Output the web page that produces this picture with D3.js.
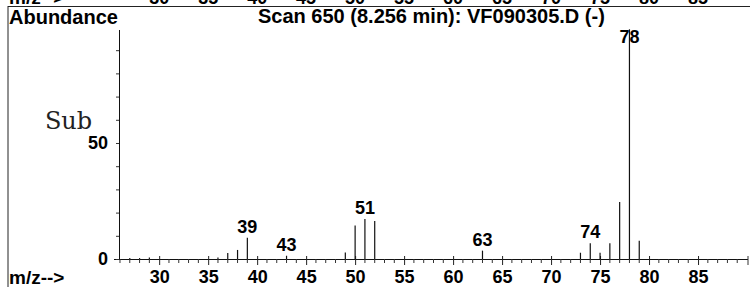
<!DOCTYPE html>
<html>
<head>
<meta charset="utf-8">
<script src="https://cdn.jsdelivr.net/npm/d3@7"></script>
<style>
    body { margin: 0; background: white; }
    svg text { font-family: "Liberation Sans", Arial, sans-serif; font-weight: bold; fill: black; }
    svg text.mono { font-family: "DejaVu Serif", "Liberation Serif", serif; font-weight: normal; fill: #222; }
</style>
</head>
<body>
<div id="spectrum"></div>
<script>
// Spectrum data
const mz = [27, 28, 29, 36, 37, 38, 39, 43, 49, 50, 51, 52, 63, 73, 74, 75, 76, 77, 78, 79];
const abundance = [0.4, 0.4, 0.6, 0.6, 2.6, 3.9, 9.2, 1.4, 2.8, 14.4, 17.2, 16.4, 3.6, 2.7, 6.8, 2.7, 6.8, 24.6, 99, 7.9];
const peakLabels = [39, 43, 51, 63, 74, 78];
const xTickValues = [30, 35, 40, 45, 50, 55, 60, 65, 70, 75, 80, 85];
const yTickValues = [0, 10, 20, 30, 40, 50, 60, 70, 80, 90];
const yTickLabels = [0, 50];
const titleText = "Scan 650 (8.256 min): VF090305.D (-)";

const W = 750, H = 287;
const plot = { left: 119, right: 748, top: 30, bottom: 259 };

const svg = d3.select("#spectrum")
    .append("svg")
    .attr("width", W)
    .attr("height", H);

// scales
const x = d3.scaleLinear()
    .domain([25.9, 90.1])
    .range([plot.left, plot.right]);

const y = d3.scaleLinear()
    .domain([0, 98.7])
    .range([plot.bottom, plot.top]);

// page frame (left border + cut off axis of the previous panel)
svg.append("line")
    .attr("x1", 8).attr("x2", 8)
    .attr("y1", 6).attr("y2", H)
    .attr("stroke", "#222").attr("stroke-width", 1);
svg.append("line")
    .attr("x1", 8).attr("x2", W)
    .attr("y1", 6.5).attr("y2", 6.5)
    .attr("stroke", "#222").attr("stroke-width", 1);

svg.append("g")
    .selectAll("text")
    .data(xTickValues)
    .join("text")
    .attr("x", d => x(d))
    .attr("y", 4)
    .attr("text-anchor", "middle")
    .style("font-size", "18px")
    .text(d => d);
svg.append("text")
    .attr("x", 9).attr("y", 4)
    .style("font-size", "19px")
    .text("m/z-->");

// headings
svg.append("text")
    .attr("x", 9).attr("y", 24)
    .style("font-size", "20px")
    .text("Abundance");

svg.append("text")
    .attr("x", 258).attr("y", 23)
    .style("font-size", "20px")
    .text(titleText);

svg.append("text")
    .attr("x", 9).attr("y", 284)
    .style("font-size", "19px")
    .text("m/z-->");

// x axis: major ticks every 5, minor every 1
const xAxis = svg.append("g")
    .attr("transform", `translate(0,${plot.bottom})`)
    .call(d3.axisBottom(x).tickValues(xTickValues).tickSize(6).tickPadding(5).tickFormat(d3.format("d")));
xAxis.select(".domain").attr("d", `M${plot.left - 5},0.5H${plot.right}`).attr("stroke", "#111");
xAxis.selectAll(".tick line").attr("y1", -3).attr("stroke", "#222");
xAxis.selectAll(".tick text")
    .style("font-size", "18px")
    .style("font-family", "Liberation Sans, Arial, sans-serif")
    .style("font-weight", "bold");

svg.append("g")
    .selectAll("line")
    .data(d3.range(26, 91).filter(d => d % 5 !== 0))
    .join("line")
    .attr("x1", d => x(d)).attr("x2", d => x(d))
    .attr("y1", plot.bottom).attr("y2", plot.bottom + 4)
    .attr("stroke", "#333");
svg.append("line")
    .attr("x1", plot.right).attr("x2", plot.right)
    .attr("y1", plot.bottom - 3).attr("y2", plot.bottom + 6)
    .attr("stroke", "#333");

// y axis
const yAxis = svg.append("g")
    .attr("transform", `translate(${plot.left},0)`)
    .call(d3.axisLeft(y).tickValues(yTickValues).tickSize(3).tickPadding(8)
        .tickFormat(d => yTickLabels.includes(d) ? d : ""));
yAxis.select(".domain").attr("d", `M0.5,${plot.top}V${plot.bottom}`).attr("stroke", "#111");
yAxis.selectAll(".tick line").attr("stroke", "#333");
yAxis.selectAll(".tick text")
    .style("font-size", "18px")
    .style("font-family", "Liberation Sans, Arial, sans-serif")
    .style("font-weight", "bold");

// peaks
const peaks = mz.map((m, i) => ({ mz: m, value: abundance[i] }));

svg.append("g")
    .selectAll("line")
    .data(peaks)
    .join("line")
    .attr("x1", d => x(d.mz)).attr("x2", d => x(d.mz))
    .attr("y1", plot.bottom)
    .attr("y2", d => y(d.value))
    .attr("stroke", "#111")
    .attr("stroke-width", 1.2);

svg.append("g")
    .selectAll("text")
    .data(peaks.filter(d => peakLabels.includes(d.mz)))
    .join("text")
    .attr("x", d => x(d.mz))
    .attr("y", d => Math.max(y(d.value) - 5, 43))
    .attr("text-anchor", "middle")
    .style("font-size", "18px")
    .text(d => d.mz);

// overlay note
svg.append("text")
    .attr("class", "mono")
    .attr("x", 45).attr("y", 129)
    .attr("textLength", 47)
    .attr("lengthAdjust", "spacing")
    .style("font-size", "24px")
    .text("Sub");
</script>
</body>
</html>
